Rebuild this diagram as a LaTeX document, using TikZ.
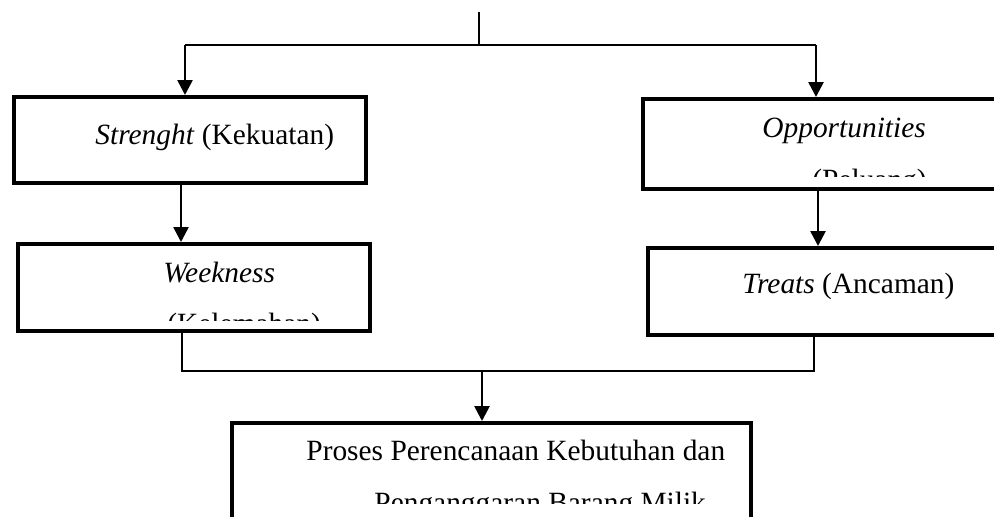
\documentclass[tikz,border=0pt]{standalone}
\usepackage{fontspec}
\setmainfont{Liberation Serif}
\usepackage{tikz}
\usetikzlibrary{calc, positioning}
\usetikzlibrary{arrows.meta}
\tikzset{>={Triangle[width=7.5pt,length=7.5pt]}}
\tikzset{
  swotbox/.style={draw, line width=2pt, inner sep=0pt},
  conn/.style={line width=0.8pt},
  arr/.style={line width=1.3pt, ->},
  txt/.style={anchor=base west, inner sep=0pt, font=\fontsize{14.7}{26}\selectfont}
}
\begin{document}
\begin{tikzpicture}[x=0.5pt, y=-0.5pt]
			\clip (0,0) rectangle (994,516);
			\node[swotbox, minimum width=176pt, minimum height=43pt] (s) at (190,140) {};
			\node[swotbox, minimum width=176pt, minimum height=43.5pt] (w) at (194,287.5) {};
			\node[swotbox, minimum width=178.5pt, minimum height=45pt] (o) at (821.5,144) {};
			\node[swotbox, minimum width=177pt, minimum height=43.5pt] (t) at (825,291.5) {};
			\node[swotbox, minimum width=259.5pt, minimum height=53.5pt] (p) at (491.5,476.5) {};
			\node[txt] (s-t) at (95,144) {\textit{Strenght} (Kekuatan)};
			\node[txt] (t-t) at (742,293) {\textit{Treats} (Ancaman)};
			\node[txt] (w-t) at (163,282) {\textit{Weekness}};
			\node[txt] (o-t) at (762,137) {\textit{Opportunities}};
			\node[txt] (p-t) at (306,460) {Proses Perencanaan Kebutuhan dan};
			\begin{scope}
				\clip (20,290) rectangle (368,320);
				\node[txt] (w-t2) at (167,333) {(Kelemahan)};
			\end{scope}
			\begin{scope}
				\clip (647,145) rectangle (994,176);
				\node[txt] (o-t2) at (812,189) {(Peluang)};
			\end{scope}
			\begin{scope}
				\clip (236,470) rectangle (749,503);
				\node[txt] (p-t2) at (374,512) {Penganggaran Barang Milik};
			\end{scope}
			\coordinate (top) at (479,12);
			\coordinate (split) at (479,45);
			\coordinate (sx) at (185,45);
			\coordinate (ox) at (816,45);
			\coordinate (wx) at (182,371);
			\coordinate (tx) at (814,371);
			\coordinate (px) at (482,371);
			\draw[conn] (top) -- (split);
			\draw[conn] (sx) -- (ox);
			\draw[arr] (sx) -- (sx |- s.north);
			\draw[arr] (ox) -- (ox |- o.north);
			\draw[arr] (s.south -| 181,0) -- (w.north -| 181,0);
			\draw[arr] (o.south -| 818,0) -- (t.north -| 818,0);
			\draw[conn] (w.south -| wx) -- (wx) -- (tx) -- (t.south -| tx);
			\draw[arr] (px) -- (px |- p.north);
		\end{tikzpicture}
\end{document}
